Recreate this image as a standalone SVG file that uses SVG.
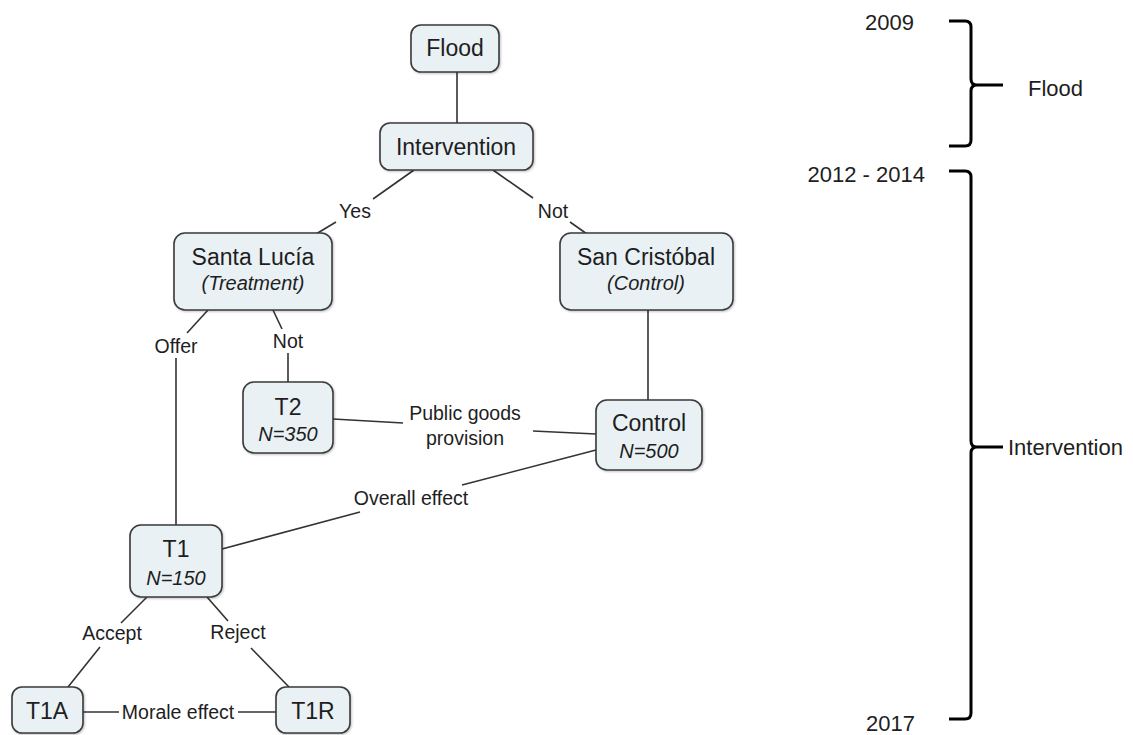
<svg xmlns="http://www.w3.org/2000/svg" width="1133" height="735" viewBox="0 0 1133 735">
<style>
  .node rect { fill: #e9f1f5; stroke: #3a3a3a; stroke-width: 1.6; filter: url(#sh); }
  .nt { font-family: "Liberation Sans", Arial, sans-serif; font-size: 23px; fill: #1e1e1e; text-anchor: middle; }
  .ni { font-family: "Liberation Sans", Arial, sans-serif; font-size: 20px; font-style: italic; fill: #1e1e1e; text-anchor: middle; }
  .lbl { font-family: "Liberation Sans", Arial, sans-serif; font-size: 19.5px; fill: #1e1e1e; text-anchor: middle; }
  .conn line { stroke: #333; stroke-width: 1.6; }
  .tl { font-family: "Liberation Sans", Arial, sans-serif; font-size: 22px; fill: #1e1e1e; }
  .brace { fill: none; stroke: #000; stroke-width: 3; stroke-linejoin: round; }
</style>
<defs>
  <filter id="sh" x="-10%" y="-10%" width="130%" height="130%">
    <feDropShadow dx="1" dy="1" stdDeviation="1.2" flood-color="#000" flood-opacity="0.25"/>
  </filter>
</defs>
<rect width="1133" height="735" fill="#fff"/>

<g id="connectors" class="conn">
  <line x1="457" y1="72" x2="457" y2="123"/>
  <line x1="414" y1="170" x2="373" y2="199"/>
  <line x1="336" y1="222" x2="316" y2="234"/>
  <line x1="493" y1="170" x2="533" y2="198"/>
  <line x1="570" y1="222" x2="587" y2="234"/>
  <line x1="208" y1="310" x2="187" y2="333"/>
  <line x1="176" y1="358" x2="176" y2="525"/>
  <line x1="273" y1="310" x2="282" y2="329"/>
  <line x1="288" y1="353" x2="288" y2="382"/>
  <line x1="648" y1="310" x2="648" y2="400"/>
  <line x1="333" y1="419" x2="403" y2="423"/>
  <line x1="533" y1="431" x2="596" y2="434"/>
  <line x1="222" y1="549" x2="360" y2="512"/>
  <line x1="462" y1="485" x2="596" y2="450"/>
  <line x1="147" y1="597" x2="121" y2="623"/>
  <line x1="100" y1="647" x2="68" y2="687"/>
  <line x1="207" y1="597" x2="228" y2="621"/>
  <line x1="251" y1="648" x2="289" y2="687"/>
  <line x1="83" y1="712" x2="119" y2="712"/>
  <line x1="238" y1="712" x2="276" y2="712"/>
</g>

<g id="labels">
  <text class="lbl" x="355" y="218">Yes</text>
  <text class="lbl" x="553" y="218">Not</text>
  <text class="lbl" x="176" y="353">Offer</text>
  <text class="lbl" x="288" y="348">Not</text>
  <text class="lbl" x="465" y="420">Public goods</text>
  <text class="lbl" x="465" y="445">provision</text>
  <text class="lbl" x="411" y="505">Overall effect</text>
  <text class="lbl" x="112" y="640">Accept</text>
  <text class="lbl" x="238" y="639">Reject</text>
  <text class="lbl" x="178" y="719">Morale effect</text>
</g>

<g id="flood" class="node">
  <rect x="411" y="25" width="88" height="47" rx="10"/>
  <text class="nt" x="455" y="56">Flood</text>
</g>
<g id="intervention" class="node">
  <rect x="380" y="123" width="153" height="47" rx="10"/>
  <text class="nt" x="456" y="155">Intervention</text>
</g>
<g id="santa-lucia" class="node">
  <rect x="174" y="233" width="158" height="77" rx="11"/>
  <text class="nt" x="253" y="265">Santa Lucía</text>
  <text class="ni" x="253" y="290">(Treatment)</text>
</g>
<g id="san-cristobal" class="node">
  <rect x="560" y="233" width="173" height="77" rx="11"/>
  <text class="nt" x="646" y="265">San Cristóbal</text>
  <text class="ni" x="646" y="290">(Control)</text>
</g>
<g id="t2" class="node">
  <rect x="243" y="382" width="90" height="71" rx="11"/>
  <text class="nt" x="288" y="415">T2</text>
  <text class="ni" x="288" y="441">N=350</text>
</g>
<g id="control" class="node">
  <rect x="596" y="400" width="106" height="70" rx="11"/>
  <text class="nt" x="649" y="431">Control</text>
  <text class="ni" x="649" y="458">N=500</text>
</g>
<g id="t1" class="node">
  <rect x="130" y="525" width="92" height="72" rx="11"/>
  <text class="nt" x="176" y="557">T1</text>
  <text class="ni" x="176" y="585">N=150</text>
</g>
<g id="t1a" class="node">
  <rect x="12" y="687" width="71" height="46" rx="10"/>
  <text class="nt" x="47" y="719">T1A</text>
</g>
<g id="t1r" class="node">
  <rect x="276" y="687" width="74" height="46" rx="10"/>
  <text class="nt" x="313" y="719">T1R</text>
</g>

<g id="timeline">
  <text class="tl" x="914" y="30" text-anchor="end">2009</text>
  <text class="tl" x="925" y="182" text-anchor="end">2012 - 2014</text>
  <text class="tl" x="915" y="731" text-anchor="end">2017</text>
  <text class="tl" x="1028" y="96">Flood</text>
  <text class="tl" x="1008" y="455">Intervention</text>
  <path class="brace" d="M949,21 L965,21 Q971,21 971,27 L971,79 Q971,85 977,85 Q971,85 971,91 L971,140 Q971,146 965,146 L949,146 M976,85 L1003,85"/>
  <path class="brace" d="M949,171 L965,171 Q971,171 971,177 L971,441 Q971,447 977,447 Q971,447 971,453 L971,713 Q971,719 965,719 L949,719 M976,447 L1003,447"/>
</g>
</svg>
